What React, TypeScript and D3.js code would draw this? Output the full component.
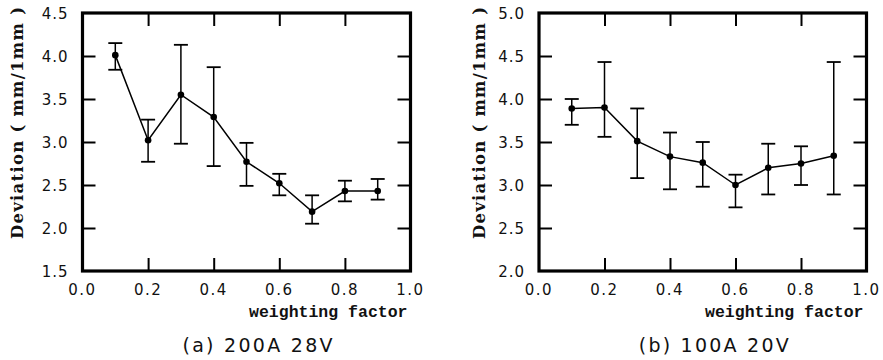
import { useEffect, useRef } from 'react';
import * as d3 from 'd3';

const factors = [0.1, 0.2, 0.3, 0.4, 0.5, 0.6, 0.7, 0.8, 0.9];
const xTickValues = [0, 0.2, 0.4, 0.6, 0.8, 1.0];

// (a) 200A 28V
const meanA = [4.01, 3.02, 3.55, 3.29, 2.77, 2.52, 2.19, 2.43, 2.43];
const upperA = [4.15, 3.26, 4.13, 3.87, 2.99, 2.63, 2.38, 2.55, 2.57];
const lowerA = [3.84, 2.77, 2.98, 2.72, 2.49, 2.38, 2.05, 2.31, 2.33];
const yTicksA = [1.5, 2.0, 2.5, 3.0, 3.5, 4.0, 4.5];

// (b) 100A 20V
const meanB = [3.89, 3.90, 3.51, 3.33, 3.26, 3.00, 3.20, 3.25, 3.34];
const upperB = [4.00, 4.43, 3.89, 3.61, 3.50, 3.12, 3.48, 3.45, 4.43];
const lowerB = [3.70, 3.56, 3.08, 2.95, 2.98, 2.74, 2.89, 3.00, 2.89];
const yTicksB = [2.0, 2.5, 3.0, 3.5, 4.0, 4.5, 5.0];

interface PanelSpec {
  left: number;
  right: number;
  labelX: number;
  caption: string;
  mean: number[];
  upper: number[];
  lower: number[];
  yTicks: number[];
}

const panels: PanelSpec[] = [
  { left: 82.5, right: 410.5, labelX: 23, caption: '(a) 200A 28V', mean: meanA, upper: upperA, lower: lowerA, yTicks: yTicksA },
  { left: 539, right: 866.5, labelX: 485, caption: '(b) 100A 20V', mean: meanB, upper: upperB, lower: lowerB, yTicks: yTicksB }
];

export default function App() {
  const svgRef = useRef<SVGSVGElement>(null);

  useEffect(() => {
    const svg = d3.select(svgRef.current);
    svg.selectAll('*').remove();

    const top = 13;
    const bottom = 271;
    const tickLen = 13;
    const tickFont = '"DejaVu Sans", sans-serif';
    const monoFont = '"Liberation Mono", "Courier New", monospace';
    const serifFont = '"DejaVu Serif", serif';

    panels.forEach(p => {
      const x = d3.scaleLinear().domain([0, 1]).range([p.left, p.right]);
      const y = d3.scaleLinear()
        .domain([p.yTicks[0], p.yTicks[p.yTicks.length - 1]])
        .range([bottom, top]);
      const g = svg.append('g');

      // frame
      g.append('rect')
        .attr('x', p.left).attr('y', top)
        .attr('width', p.right - p.left).attr('height', bottom - top)
        .attr('fill', 'none').attr('stroke', '#000').attr('stroke-width', 3.2);

      // inner ticks on all four sides (d3 axes with inward ticks)
      const innerX = xTickValues.slice(1, -1);
      const innerY = p.yTicks.slice(1, -1);
      g.append('g')
        .attr('transform', `translate(0,${bottom})`)
        .call(d3.axisBottom(x).tickValues(innerX).tickSize(-tickLen).tickFormat(() => ''));
      g.append('g')
        .attr('transform', `translate(0,${top})`)
        .call(d3.axisTop(x).tickValues(innerX).tickSize(-tickLen).tickFormat(() => ''));
      g.append('g')
        .attr('transform', `translate(${p.left},0)`)
        .call(d3.axisLeft(y).tickValues(innerY).tickSize(-tickLen).tickFormat(() => ''));
      g.append('g')
        .attr('transform', `translate(${p.right},0)`)
        .call(d3.axisRight(y).tickValues(innerY).tickSize(-tickLen).tickFormat(() => ''));
      g.selectAll('.domain').remove();
      g.selectAll('.tick line').attr('stroke', '#000').attr('stroke-width', 2);

      // tick labels
      g.selectAll('.xt').data(xTickValues).enter().append('text')
        .attr('x', d => x(d)).attr('y', 295)
        .attr('text-anchor', 'middle')
        .style('font-family', tickFont).style('font-size', '15px').style('letter-spacing', '1.5px')
        .attr('fill', '#111')
        .text(d => d3.format('.1f')(d));
      g.selectAll('.yt').data(p.yTicks).enter().append('text')
        .attr('x', p.left - 14).attr('y', d => y(d) + 5.5)
        .attr('text-anchor', 'end')
        .style('font-family', tickFont).style('font-size', '15px').style('letter-spacing', '1px')
        .attr('fill', '#111')
        .text(d => d3.format('.1f')(d));

      // axis titles
      g.append('text')
        .attr('x', p.right - 3).attr('y', 317)
        .attr('text-anchor', 'end')
        .style('font-family', monoFont).style('font-size', '16.5px').style('font-weight', 'bold')
        .attr('fill', '#111')
        .text('weighting factor');
      g.append('text')
        .attr('transform', `translate(${p.labelX},${123}) rotate(-90)`)
        .attr('text-anchor', 'middle')
        .attr('textLength', 232).attr('lengthAdjust', 'spacing')
        .style('font-family', serifFont).style('font-size', '16.5px').style('font-weight', 'bold')
        .attr('fill', '#111')
        .text('Deviation ( mm/1mm )');

      // caption
      g.append('text')
        .attr('x', (p.left + p.right) / 2 + 11).attr('y', 352)
        .attr('text-anchor', 'middle')
        .attr('textLength', 150).attr('lengthAdjust', 'spacing')
        .style('font-family', tickFont).style('font-size', '19px')
        .attr('fill', '#111')
        .text(p.caption);

      // error bars
      const cap = 7;
      factors.forEach((f, i) => {
        const cx = x(f);
        g.append('line').attr('x1', cx).attr('x2', cx).attr('y1', y(p.upper[i])).attr('y2', y(p.lower[i]))
          .attr('stroke', '#000').attr('stroke-width', 1.5);
        g.append('line').attr('x1', cx - cap).attr('x2', cx + cap).attr('y1', y(p.upper[i])).attr('y2', y(p.upper[i]))
          .attr('stroke', '#000').attr('stroke-width', 1.8);
        g.append('line').attr('x1', cx - cap).attr('x2', cx + cap).attr('y1', y(p.lower[i])).attr('y2', y(p.lower[i]))
          .attr('stroke', '#000').attr('stroke-width', 1.8);
      });

      // mean line
      const line = d3.line<number>()
        .x((_, i) => x(factors[i]))
        .y(d => y(d));
      g.append('path')
        .datum(p.mean)
        .attr('d', line)
        .attr('fill', 'none').attr('stroke', '#000').attr('stroke-width', 1.5);

      g.selectAll('.pt').data(p.mean).enter().append('circle')
        .attr('cx', (_, i) => x(factors[i]))
        .attr('cy', d => y(d))
        .attr('r', 3.3)
        .attr('fill', '#000');
    });
  }, []);

  return (
    <svg
      ref={svgRef}
      width={883}
      height={360}
      style={{ position: 'absolute', left: 0, top: 0, background: '#fff' }}
    ></svg>
  );
}
